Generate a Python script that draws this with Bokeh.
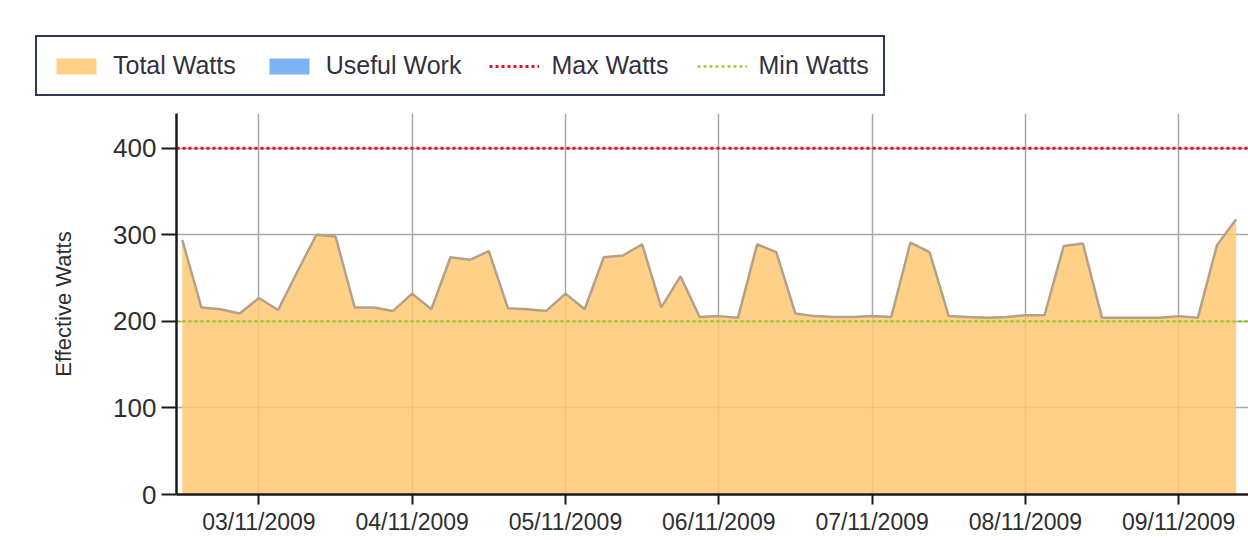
import pandas as pd
from bokeh.plotting import figure
from bokeh.models import (Range1d, DatetimeTickFormatter, DaysTicker, FixedTicker,
                          Legend, LegendItem)
from bokeh.embed import file_html
from bokeh.resources import INLINE

# ---------------- data ----------------
start_time = "2009-11-02 12:00"
step = "3h"
total_watts = [294, 216, 214, 209, 227, 213, 257, 300, 298, 216, 216, 212, 232, 214,
               274, 271, 281, 215, 214, 212, 232, 214, 274, 276, 289, 216, 252, 205,
               206, 204, 289, 280, 209, 206, 205, 205, 206, 205, 291, 280, 206, 205,
               204, 205, 207, 207, 287, 290, 204, 204, 204, 204, 206, 204, 288, 318]
useful_work = [0] * len(total_watts)
max_watts = 400
min_watts = 200
y_ticks = [0, 100, 200, 300, 400]
date_format = "%d/%m/%Y"
series_names = ["Total Watts", "Useful Work", "Max Watts", "Min Watts"]

times = pd.date_range(start_time, periods=len(total_watts), freq=step)
x_lo = pd.Timestamp(start_time) - pd.Timedelta(minutes=54)
x_hi = x_lo + pd.Timedelta(days=6.993)

FONT = "Liberation Sans"
C_TOTAL = "#FFC873"
C_USEFUL = "#7FB2F5"
C_MAX = "#E5102E"
C_MIN = "#A3C63A"


def add_series(fig):
    r_total = fig.varea(x=times, y1=0, y2=total_watts, fill_color=C_TOTAL, fill_alpha=0.85)
    fig.line(x=times, y=total_watts, line_color="#B3A287", line_width=2.5)
    r_useful = fig.varea(x=times, y1=0, y2=useful_work, fill_color=C_USEFUL)
    r_max = fig.line(x=[x_lo, x_hi], y=[max_watts, max_watts], line_color=C_MAX,
                     line_width=3, line_dash="3 3")
    r_min = fig.line(x=[x_lo, x_hi], y=[min_watts, min_watts], line_color=C_MIN,
                     line_width=2.5, line_dash="3 3")
    return [r_total, r_useful, r_max, r_min]


# ---------------- main chart ----------------
p = figure(width=1248, height=424, x_axis_type="datetime",
           x_range=Range1d(x_lo, x_hi), y_range=Range1d(0, 440),
           output_backend="svg", toolbar_location=None,
           min_border_left=176, min_border_right=0, min_border_top=0,
           min_border_bottom=0)
p.outline_line_color = None
p.background_fill_color = "white"
p.border_fill_color = "white"
add_series(p)

p.xgrid.ticker = DaysTicker(days=list(range(1, 32)))
p.ygrid.ticker = FixedTicker(ticks=y_ticks)
for g in (p.xgrid, p.ygrid):
    g.grid_line_color = "#A8A8A8"
    g.grid_line_width = 1.5

xa = p.xaxis[0]
xa.ticker = DaysTicker(days=list(range(1, 32)))
xa.formatter = DatetimeTickFormatter(days=date_format, months=date_format,
                                     hours=date_format)
xa.major_label_text_font = FONT
xa.major_label_text_font_size = "23px"
xa.major_label_text_color = "#2e2e2e"
xa.major_tick_out = 10
xa.major_tick_in = 0
xa.minor_tick_line_color = None
xa.axis_line_width = 2.5
xa.axis_line_color = "#1a1a1a"
xa.major_tick_line_color = "#1a1a1a"
xa.major_tick_line_width = 2
xa.major_label_standoff = 4

ya = p.yaxis[0]
ya.ticker = FixedTicker(ticks=y_ticks)
ya.major_label_text_font = FONT
ya.major_label_text_font_size = "26px"
ya.major_label_text_color = "#2e2e2e"
ya.major_tick_out = 15
ya.major_tick_in = 0
ya.minor_tick_line_color = None
ya.axis_line_width = 2.5
ya.axis_line_color = "#1a1a1a"
ya.major_tick_line_color = "#1a1a1a"
ya.major_tick_line_width = 2
ya.major_label_standoff = 5
ya.axis_label = "Effective Watts"
ya.axis_label_text_font = FONT
ya.axis_label_text_font_size = "22px"
ya.axis_label_text_font_style = "normal"
ya.axis_label_text_color = "#2e2e2e"
ya.axis_label_standoff = 34

# ---------------- legend strip (separate root above the chart) ----------------
lg = figure(width=1248, height=113, x_range=Range1d(0, 1), y_range=Range1d(0, 1),
            output_backend="svg", toolbar_location=None,
            x_axis_location=None, y_axis_location=None,
            min_border_left=0, min_border_right=0, min_border_top=0,
            min_border_bottom=0)
lg.outline_line_color = None
lg.xgrid.visible = False
lg.ygrid.visible = False
lg.background_fill_color = "white"
lg.border_fill_color = "white"
# same series, outside this strip's ranges: only used for the legend swatches
legend_renderers = add_series(lg)

legend = Legend(items=[LegendItem(label=name, renderers=[r])
                       for name, r in zip(series_names, legend_renderers)],
                orientation="horizontal", location=(35, 17))
legend.glyph_width = 50
legend.glyph_height = 20
legend.label_standoff = 12
legend.spacing = 28
legend.padding = 14
legend.margin = 0
legend.label_text_font = FONT
legend.label_text_font_size = "25px"
legend.label_text_color = "#333040"
legend.border_line_color = "#2E3A5C"
legend.border_line_alpha = 1
legend.border_line_width = 2.5
legend.background_fill_color = "white"
legend.background_fill_alpha = 1
lg.add_layout(legend)

open("out.html", "w").write(file_html([lg, p], INLINE))
